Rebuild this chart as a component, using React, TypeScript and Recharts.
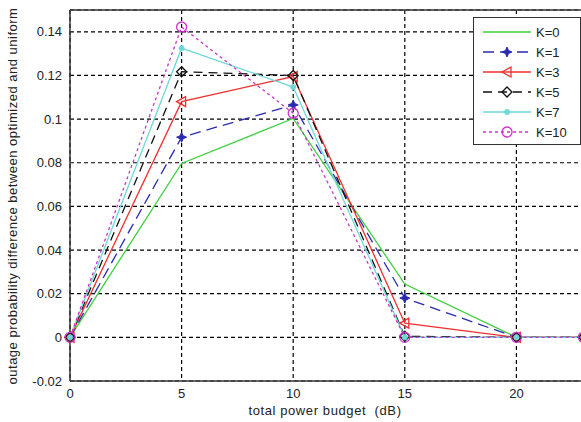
import { LineChart, Line, XAxis, YAxis, CartesianGrid, ReferenceLine, Legend } from "recharts";

const budget = [0, 5, 10, 15, 20, 23];
const k0 = [0, 0.0797, 0.1003, 0.0244, 0, 0];
const k1 = [0, 0.0917, 0.1065, 0.018, 0, 0];
const k3 = [0, 0.108, 0.1195, 0.0065, 0, 0];
const k5 = [0, 0.1217, 0.12, 0.0005, 0, 0];
const k7 = [0, 0.1325, 0.1147, 0, 0, 0];
const k10 = [0, 0.1422, 0.1027, 0, 0, 0];
const yTicks = [-0.02, 0, 0.02, 0.04, 0.06, 0.08, 0.1, 0.12, 0.14];
const xTicks = [0, 5, 10, 15, 20];

const data = budget.map((b, i) => ({
  b,
  k0: k0[i],
  k1: k1[i],
  k3: k3[i],
  k5: k5[i],
  k7: k7[i],
  k10: k10[i]
}));

const SERIES = [
  { key: "k0", name: "K=0", color: "#3fd03f", dash: undefined, shape: "none" },
  { key: "k1", name: "K=1", color: "#2a2ab0", dash: "11 6", shape: "star" },
  { key: "k3", name: "K=3", color: "#f03030", dash: undefined, shape: "tri" },
  { key: "k5", name: "K=5", color: "#111", dash: "9 6", shape: "diamond" },
  { key: "k7", name: "K=7", color: "#6fd8d8", dash: undefined, shape: "dot" },
  { key: "k10", name: "K=10", color: "#cc33cc", dash: "3 3", shape: "circle" }
];

const FONT = "Liberation Sans, Arial, sans-serif";

function Marker({ cx, cy, shape, color }: any) {
  if (cx == null || cy == null) return null;
  if (shape === "star")
    return (
      <path
        d={`M${cx} ${cy - 5} L${cx + 1.5} ${cy - 1.5} L${cx + 5} ${cy} L${cx + 1.5} ${cy + 1.5} L${cx} ${cy + 5} L${cx - 1.5} ${cy + 1.5} L${cx - 5} ${cy} L${cx - 1.5} ${cy - 1.5} Z`}
        fill={color}
        stroke={color}
      />
    );
  if (shape === "tri")
    return (
      <path
        d={`M${cx - 5} ${cy} L${cx + 4} ${cy - 5} L${cx + 4} ${cy + 5} Z`}
        fill="none"
        stroke={color}
        strokeWidth={1.3}
      />
    );
  if (shape === "diamond")
    return (
      <path
        d={`M${cx} ${cy - 5} L${cx + 5} ${cy} L${cx} ${cy + 5} L${cx - 5} ${cy} Z`}
        fill="none"
        stroke={color}
        strokeWidth={1.3}
      />
    );
  if (shape === "dot")
    return <circle cx={cx} cy={cy} r={2.5} fill={color} stroke={color} />;
  if (shape === "circle")
    return <circle cx={cx} cy={cy} r={5} fill="none" stroke={color} strokeWidth={1.3} />;
  return null;
}

function LegendBox() {
  return (
    <div
      style={{
        position: "absolute",
        left: 473,
        top: 17,
        width: 106,
        height: 126,
        border: "1.5px solid #333",
        background: "#fff",
        fontFamily: FONT,
        fontSize: 13,
        color: "#222"
      }}
    >
      {SERIES.map((s, i) => (
        <div key={s.key} style={{ position: "absolute", left: 8, top: 5 + i * 20, height: 18, display: "flex", alignItems: "center" }}>
          <svg width={50} height={18}>
            <line x1={1} y1={9} x2={49} y2={9} stroke={s.color} strokeWidth={1.3} strokeDasharray={s.dash} />
            <Marker cx={25} cy={9} shape={s.shape} color={s.color} />
          </svg>
          <span style={{ marginLeft: 4 }}>{s.name}</span>
        </div>
      ))}
    </div>
  );
}

const tickStyle = { fill: "#222", fontSize: 13, fontFamily: FONT };

export default function App() {
  return (
    <div style={{ position: "fixed", left: 0, top: 0, width: 581, height: 422, overflow: "hidden", background: "#fff" }}>
      <LineChart width={640} height={422} data={data} margin={{ top: 10, right: 12, left: 10, bottom: 11 }}>
        <CartesianGrid stroke="#000" strokeDasharray="4 3" strokeWidth={1.2} />
        <XAxis
          dataKey="b"
          type="number"
          domain={[0, 25]}
          ticks={xTicks}
          tick={tickStyle}
          tickLine={false}
          axisLine={{ stroke: "#333", strokeWidth: 1.5 }}
          height={30}
          interval={0}
          label={() => (
            <text x={325} y={415} textAnchor="middle" fill="#222" fontSize={13} letterSpacing={0.6} fontFamily={FONT}>
              {"total power budget\u00a0 (dB)"}
            </text>
          )}
        />
        <YAxis
          type="number"
          domain={[-0.02, 0.15]}
          ticks={yTicks}
          tick={tickStyle}
          tickLine={false}
          tickFormatter={(v: number) => String(Math.round(v * 100) / 100)}
          axisLine={{ stroke: "#333", strokeWidth: 1.5 }}
          width={60}
          interval={0}
          label={() => (
            <text
              x={17}
              y={196}
              transform="rotate(-90 17 196)"
              textAnchor="middle"
              fill="#222"
              fontSize={13}
              letterSpacing={0.5}
              fontFamily={FONT}
            >
              outage probability difference between optimized and uniform
            </text>
          )}
        />
        <ReferenceLine y={0.15} stroke="#333" strokeWidth={1.5} />
        {SERIES.map((s) => (
          <Line
            key={s.key}
            dataKey={s.key}
            name={s.name}
            stroke={s.color}
            strokeWidth={1.3}
            strokeDasharray={s.dash}
            isAnimationActive={false}
            dot={(p: any) => <Marker key={`${s.key}-${p.index}`} cx={p.cx} cy={p.cy} shape={s.shape} color={s.color} />}
            activeDot={false}
          />
        ))}
        <Legend content={() => <LegendBox />} wrapperStyle={{ position: "absolute", left: 0, top: 0, width: 0, height: 0 }} />
      </LineChart>
    </div>
  );
}
